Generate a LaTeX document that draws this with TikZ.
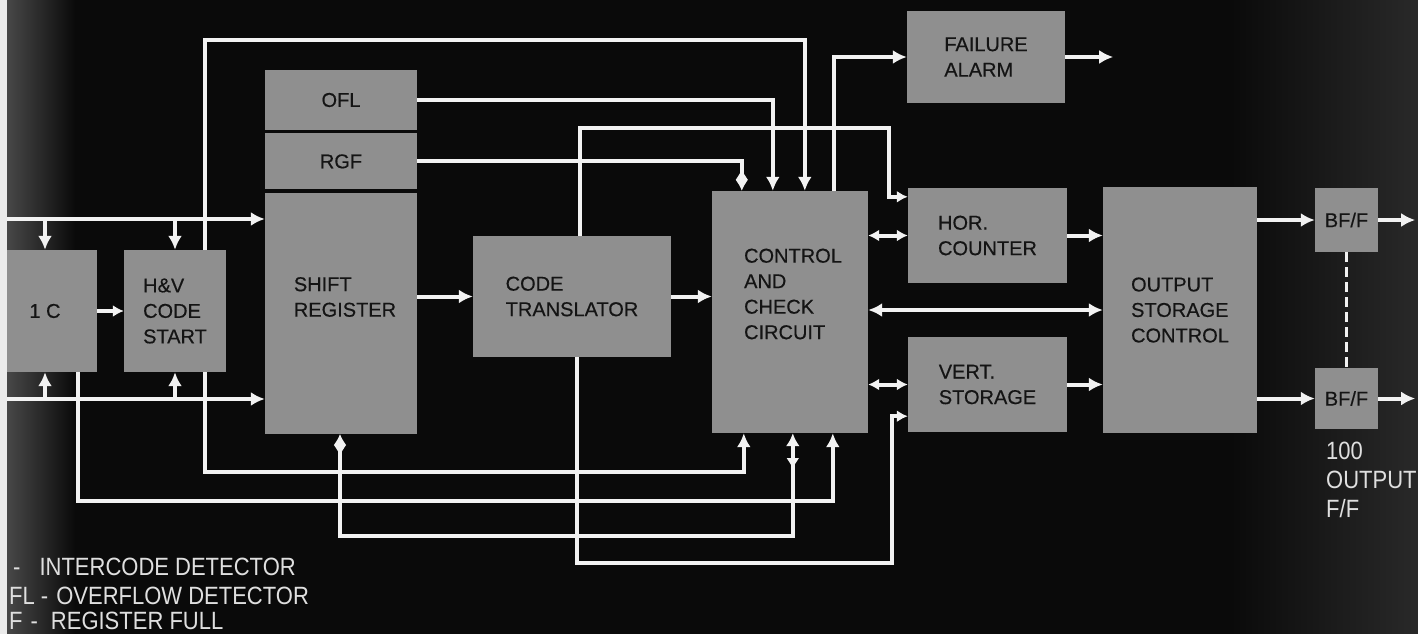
\documentclass[tikz,border=0pt]{standalone}
\usepackage{fontspec}
\setmainfont{Liberation Sans}
\newfontfamily\platefont[FakeStretch=0.88]{Liberation Sans}
\newfontfamily\blockfont[FakeBold=0.4]{Liberation Sans}
\usetikzlibrary{positioning,arrows.meta,calc}

\definecolor{bgblack}{HTML}{0A0A0A}
\definecolor{boxgray}{HTML}{8F8F8F}
\definecolor{inkdark}{HTML}{141414}
\definecolor{wirewhite}{HTML}{F2F2F2}

\tikzset{
  lbl/.style={inner sep=0pt,align=left,text=inkdark,font=\blockfont\fontsize{20}{25.5}\selectfont},
  blk/.style={lbl,fill=boxgray},
  wire/.style={draw=wirewhite,line width=4pt},
  small tips/.style={>={Latex[length=11pt,width=12pt]}},
  twohead/.style={-{Latex[length=11pt,width=13pt,reversed]Latex[length=11pt,width=13pt]}},
  twoends/.style={{Latex[length=11pt,width=13pt]Latex[length=11pt,width=13pt,reversed]}-{Latex[length=11pt,width=13pt,reversed,sep=12pt]Latex[length=13pt,width=14pt]}},
  legend/.style={inner sep=0pt,text=wirewhite!92!black,font=\platefont\fontsize{25}{29}\selectfont},
}

\begin{document}
\begin{tikzpicture}[x=1pt,y=-1pt,>={Latex[length=14pt,width=14pt]}]
% plate background
\fill[bgblack] (0,0) rectangle (1418,634);
\shade[left color=black!72!white,right color=bgblack] (7,0) rectangle (75,634);
\shade[left color=bgblack,right color=black!84!white] (1230,0) rectangle (1418,634);
\useasboundingbox (0,0) rectangle (1418,634);

% blocks
\node[blk,minimum width=104,minimum height=122] (ic) at (45,311) {1 C};
\node[blk,minimum width=102,minimum height=122] (hv) at (175,311) {H\&V\\CODE\\START};
\node[blk,minimum width=152,minimum height=60] (ofl) at (341,100) {OFL};
\node[blk,minimum width=152,minimum height=56,below=3pt of ofl] (rgf) {RGF};
\node[blk,minimum width=152,minimum height=241,below=3pt of rgf] (sr) {};
\node[lbl] (srtext) at (345,297) {SHIFT\\REGISTER};
\node[blk,minimum width=198,minimum height=121] (ct) at (572,296.5) {CODE\\TRANSLATOR};
\node[blk,minimum width=156,minimum height=242] (cc) at (790,312) {};
\node[lbl] (cctext) at (793,294) {CONTROL\\AND\\CHECK\\CIRCUIT};
\node[blk,minimum width=158,minimum height=92] (fa) at (986,57) {FAILURE\\ALARM};
\node[blk,minimum width=159,minimum height=95] (hor) at (987.5,235.5) {HOR.\\COUNTER};
\node[blk,minimum width=159,minimum height=95] (vert) at (987.5,384.5) {VERT.\\STORAGE};
\node[blk,minimum width=154,minimum height=246] (osc) at (1180,310) {OUTPUT\\STORAGE\\CONTROL};
\node[blk,minimum width=63,minimum height=64] (bf1) at (1346.5,220) {BF/F};
\node[blk,minimum width=63,minimum height=61] (bf2) at (1346.5,398.5) {BF/F};

% inputs from the left
\coordinate (inhi) at (0,219);
\coordinate (inlo) at (0,399);
\draw[wire,->] (inhi) -- (inhi -| sr.west);
\draw[wire,->] (inlo) -- (inlo -| sr.west);
\draw[wire,->] (inhi -| ic.north) -- (ic.north);
\draw[wire,->] (inhi -| hv.north) -- (hv.north);
\draw[wire,->] (inlo -| ic.south) -- (ic.south);
\draw[wire,->] (inlo -| hv.south) -- (hv.south);
\draw[wire,small tips,->] (ic) -- (hv);

% lines into the top of the control circuit
\draw[wire,->] ([xshift=30pt]hv.north) -- ++(0,-210) -| ([xshift=93pt]cc.north west);
\draw[wire,->] (ofl.east) -| ([xshift=61pt]cc.north west);
\draw[wire,twohead] (rgf.east) -| ([xshift=30pt]cc.north west);
\draw[wire,small tips,->] ([xshift=8pt]ct.north) -- ++(0,-108) -- ++(309,0) |- ([yshift=-9pt]hor.north west);
\draw[wire,->] ([xshift=122pt]cc.north west) |- (fa.west);
\coordinate[right=48pt of fa.east] (faout);
\draw[wire,->] (fa.east) -- (faout);

% main data path
\draw[wire,->] (sr.east |- ct.west) -- (ct.west);
\draw[wire,->] (ct.east) -- (ct.east -| cc.west);
\draw[wire,small tips,<->] (cc.east |- hor.west) -- (hor.west);
\draw[wire,<->] (cc.east |- osc.west) -- (osc.west);
\draw[wire,small tips,<->] (cc.east |- vert.west) -- (vert.west);
\draw[wire,->] (hor.east) -- (hor.east -| osc.west);
\draw[wire,->] (vert.east) -- (vert.east -| osc.west);
\draw[wire,->] (osc.east |- bf1.west) -- (bf1.west);
\draw[wire,->] (osc.east |- bf2.west) -- (bf2.west);
\coordinate[right=37pt of bf1.east] (out1);
\coordinate[right=37pt of bf2.east] (out2);
\draw[wire,->] (bf1.east) -- (out1);
\draw[wire,->] (bf2.east) -- (out2);
\draw[draw=wirewhite,line width=3pt,dash pattern=on 10pt off 5pt] (bf1.south) -- (bf2.north);

% returns under the blocks
\draw[wire,small tips,->] ([xshift=5pt]ct.south) -- ++(0,206) -- ++(315,0) |- ([yshift=16pt]vert.south west);
\draw[wire,->] ([xshift=30pt]hv.south) -- ++(0,100) -| ([xshift=32pt]cc.south west);
\draw[wire,->] ([xshift=33pt]ic.south) -- ++(0,129) -| ([xshift=121pt]cc.south west);
\draw[wire,twoends] ([xshift=-1pt]sr.south) -- ++(0,102) -| ([xshift=81pt]cc.south west);

% notes
\node[legend,align=left,anchor=north west] (outnote) at (1326,442) {100\\OUTPUT\\F/F};
\node[legend,anchor=base west] (legic) at (13,575) {-\hspace{19pt}INTERCODE DETECTOR};
\node[legend,anchor=base west] (legofl) at (9,604) {FL -\hspace{8pt}OVERFLOW DETECTOR};
\node[legend,anchor=base west] (legrgf) at (9,629) {F\hspace{8pt}-\hspace{13pt}REGISTER FULL};

% edge of the print
\fill[white!92!black] (0,0) rectangle (7,634);
\end{tikzpicture}
\end{document}
